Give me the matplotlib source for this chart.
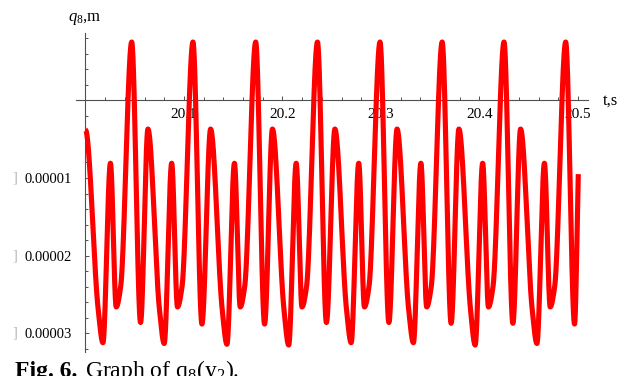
import numpy as np
import matplotlib
matplotlib.use("Agg")
import matplotlib.pyplot as plt

plt.rcParams['font.family'] = ['Liberation Serif', 'DejaVu Serif']
plt.rcParams['mathtext.fontset'] = 'custom'
plt.rcParams['mathtext.rm'] = 'Liberation Serif'
plt.rcParams['mathtext.it'] = 'Liberation Serif:italic'
plt.rcParams['mathtext.bf'] = 'Liberation Serif:bold'

# ---- data (t in s, q8 in units of 1e-5 m) ----
t_points = [
    20.0000,
    20.0128, 20.0177, 20.0253, 20.0312, 20.0357, 20.0469, 20.0559,
    20.0634, 20.0750, 20.0799, 20.0875, 20.0934, 20.0980, 20.1091, 20.1182,
    20.1270, 20.1387, 20.1436, 20.1512, 20.1571, 20.1616, 20.1728, 20.1818,
    20.1898, 20.2014, 20.2063, 20.2139, 20.2198, 20.2244, 20.2355, 20.2446,
    20.2532, 20.2649, 20.2697, 20.2774, 20.2832, 20.2878, 20.2990, 20.3080,
    20.3163, 20.3280, 20.3329, 20.3405, 20.3464, 20.3510, 20.3621, 20.3712,
    20.3791, 20.3908, 20.3956, 20.4032, 20.4091, 20.4137, 20.4249, 20.4339,
    20.4417, 20.4534, 20.4583, 20.4659, 20.4718, 20.4763, 20.4875, 20.4965,
    20.5003,
]
q_points = [
    -0.38,
    -2.68, -3.12, -0.81, -2.66, -2.40, 0.75, -2.86,
    -0.37, -2.68, -3.13, -0.81, -2.66, -2.40, 0.75, -2.88,
    -0.37, -2.68, -3.14, -0.81, -2.66, -2.40, 0.75, -2.88,
    -0.37, -2.68, -3.15, -0.81, -2.66, -2.40, 0.75, -2.86,
    -0.37, -2.68, -3.12, -0.81, -2.66, -2.40, 0.75, -2.86,
    -0.37, -2.68, -3.12, -0.81, -2.66, -2.40, 0.75, -2.87,
    -0.37, -2.68, -3.15, -0.81, -2.66, -2.40, 0.75, -2.87,
    -0.37, -2.68, -3.13, -0.81, -2.66, -2.40, 0.75, -2.88,
    -0.95,
]
x_major = [20.1, 20.2, 20.3, 20.4, 20.5]
x_labels = ["20.1", "20.2", "20.3", "20.4", "20.5"]
y_major = [-1e-5, -2e-5, -3e-5]
y_labels = ["0.00001", "0.00002", "0.00003"]


def smooth(x, y, xn):
    """monotone cubic (Fritsch-Carlson) drawing of the read points"""
    x = np.asarray(x, float)
    y = np.asarray(y, float)
    h = np.diff(x)
    d = np.diff(y) / h
    m = np.zeros_like(y)
    for k in range(1, len(y) - 1):
        if d[k - 1] * d[k] > 0:
            w1 = 2 * h[k] + h[k - 1]
            w2 = h[k] + 2 * h[k - 1]
            m[k] = (w1 + w2) / (w1 / d[k - 1] + w2 / d[k])
    m[0] = 0.0
    m[-1] = d[-1]
    idx = np.clip(np.searchsorted(x, xn) - 1, 0, len(x) - 2)
    hh = h[idx]
    s = (xn - x[idx]) / hh
    h00 = 2 * s**3 - 3 * s**2 + 1
    h10 = s**3 - 2 * s**2 + s
    h01 = -2 * s**3 + 3 * s**2
    h11 = s**3 - s**2
    return h00 * y[idx] + h10 * hh * m[idx] + h01 * y[idx + 1] + h11 * hh * m[idx + 1]


W, H = 630, 376
fig = plt.figure(figsize=(W / 100, H / 100), dpi=100)


def fx(px):
    return px / W


def fy(py):
    return 1 - py / H


ax = fig.add_axes([fx(76), fy(352), (588.3 - 76) / W, (352 - 33) / H])
ax.set_xlim(19.99036, 20.51046)
ax.set_ylim(-3.2394e-5, 0.8662e-5)
ax.set_facecolor('none')

tt = np.linspace(t_points[0], t_points[-1], 4000)
qq = smooth(t_points, q_points, tt) * 1e-5
ax.plot(tt, qq, color='#ff0000', lw=3.7, solid_capstyle='butt',
        solid_joinstyle='round', zorder=3)

axis_col = '#505050'
for s in ['top', 'right']:
    ax.spines[s].set_visible(False)
ax.spines['left'].set_position(('data', 20.0))
ax.spines['bottom'].set_position(('data', 0.0))
for s in ['left', 'bottom']:
    ax.spines[s].set_color(axis_col)
    ax.spines[s].set_linewidth(0.8)
    ax.spines[s].set_zorder(2)

ax.set_xticks(x_major)
ax.set_xticklabels(x_labels)
x_minor = [20.0 + 0.02 * k for k in range(1, 26) if k % 5 != 0]
ax.set_xticks(x_minor, minor=True)

ax.set_yticks(y_major)
ax.set_yticklabels(y_labels)
y_minor = [v * 1e-5 for v in [0.2, 0.4, 0.6, 0.8, -0.2, -0.4, -0.6, -0.8,
                              -1.2, -1.4, -1.6, -1.8, -2.2, -2.4, -2.6, -2.8,
                              -3.2]]
ax.set_yticks(y_minor, minor=True)

ax.tick_params(axis='both', which='both', direction='in', color=axis_col,
               width=0.7)
ax.tick_params(axis='both', which='major', length=3.2)
ax.tick_params(axis='both', which='minor', length=2.0)
ax.tick_params(axis='x', which='major', pad=5.5, labelsize=11)
ax.tick_params(axis='y', which='major', pad=10.0, labelsize=10.5)

# grey missing-glyph marks in front of the negative labels
for v in y_major:
    py = 100.3 - v * 1e5 * 77.7
    fig.text(fx(15), fy(py), "]", color='#b4b4b4', fontsize=10.5,
             ha='center', va='center')

fig.text(fx(68), fy(21), r'$q_8$,m', fontsize=12, ha='left', va='baseline')
fig.text(fx(603), fy(105), 't,s', fontsize=12, ha='left', va='baseline')

fig.text(fx(15), fy(376.5), 'Fig. 6.', fontsize=17, fontweight='bold',
         ha='left', va='baseline')
fig.text(fx(85), fy(376.5), r'Graph of q$_8$(y$_2$).', fontsize=17,
         ha='left', va='baseline')

fig.savefig('out.png', dpi=100)
